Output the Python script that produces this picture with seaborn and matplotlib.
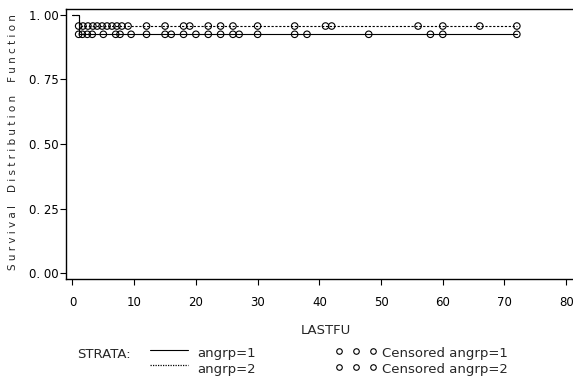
import matplotlib
matplotlib.use("Agg")
import matplotlib.pyplot as plt
import numpy as np
import pandas as pd
import seaborn as sns
from matplotlib.lines import Line2D

# step curves (time, survival) per stratum
strata = ["angrp=1", "angrp=2"]
curve_time_1 = [0, 1, 72]
curve_surv_1 = [1.0, 0.925, 0.925]
curve_time_2 = [0, 1, 72]
curve_surv_2 = [1.0, 0.957, 0.957]

# censored observation times
censored_1 = [1, 1.6, 2.4, 3.2, 5, 7, 7.7, 9.5, 12, 15, 16, 18, 20, 22, 24,
              26, 27, 30, 36, 38, 48, 58, 60, 72]
censored_2 = [1, 1.7, 2.5, 3.3, 4, 4.8, 5.6, 6.4, 7.2, 8, 9, 12, 15, 18, 19,
              22, 24, 26, 30, 36, 41, 42, 56, 60, 66, 72]

x_ticks = [0, 10, 20, 30, 40, 50, 60, 70, 80]
y_ticks = [0.0, 0.25, 0.5, 0.75, 1.0]
y_ticklabels = ["0. 00", "0. 25", "0. 50", "0. 75", "1. 00"]


def step_value(times, surv, t):
    idx = np.searchsorted(times, t, side="right") - 1
    return surv[idx]


curves = pd.concat([
    pd.DataFrame({"time": curve_time_1, "survival": curve_surv_1, "strata": strata[0]}),
    pd.DataFrame({"time": curve_time_2, "survival": curve_surv_2, "strata": strata[1]}),
])
cens = pd.concat([
    pd.DataFrame({"time": censored_1,
                  "survival": [step_value(curve_time_1, curve_surv_1, t) for t in censored_1]}),
    pd.DataFrame({"time": censored_2,
                  "survival": [step_value(curve_time_2, curve_surv_2, t) for t in censored_2]}),
])

sns.set_style("ticks")
plt.rcParams["font.family"] = ["DejaVu Sans"]

fig = plt.figure(figsize=(5.73, 3.81), dpi=100)
ax = fig.add_axes([66 / 573, 1 - 279 / 381, 1 - 66 / 573, 270 / 381])

sns.lineplot(
    data=curves, x="time", y="survival", style="strata",
    dashes={"angrp=1": "", "angrp=2": (2, 1.5)},
    color="black", linewidth=0.8, drawstyle="steps-post",
    estimator=None, sort=False, legend=False, ax=ax,
)
sns.scatterplot(
    data=cens, x="time", y="survival", marker="o", s=22,
    facecolor="none", edgecolor="black", linewidth=0.8, legend=False, ax=ax,
)

ax.set_xlim(-1.05, 81.1)
ax.set_ylim(-0.023, 1.023)
ax.set_xticks(x_ticks)
ax.set_yticks(y_ticks)
ax.set_yticklabels(y_ticklabels)
ax.tick_params(axis="both", direction="out", length=4, width=0.8,
               labelsize=8.5, colors="black")
ax.tick_params(axis="x", pad=8)
ax.tick_params(axis="y", pad=1)
for side in ["left", "bottom", "top"]:
    ax.spines[side].set_linewidth(1.0)
    ax.spines[side].set_color("black")
ax.spines["right"].set_visible(False)
ax.set_xlabel("")
ax.set_ylabel("")

fig.text(326 / 573, 1 - 330 / 381, "LASTFU", ha="center", va="center", fontsize=9.5)
fig.text(13 / 573, 1 - 142 / 381,
         " ".join("Survival Distribution Function").replace("   ", "    "),
         rotation=90, ha="center", va="center", fontsize=7.5)

# legend block (SAS style)
row1 = 1 - 354 / 381
row2 = 1 - 370 / 381
fig.text(77 / 573, row1, "STRATA:", ha="left", va="center", fontsize=9.5)
fig.add_artist(Line2D([150 / 573, 188 / 573], [row1 + 0.010, row1 + 0.010],
                      color="black", linewidth=0.8))
fig.add_artist(Line2D([150 / 573, 188 / 573], [row2 + 0.012, row2 + 0.012],
                      color="black", linewidth=0.9, linestyle=(0, (1, 1))))
fig.text(197 / 573, row1, "angrp=1", ha="left", va="center", fontsize=9.5)
fig.text(197 / 573, row2, "angrp=2", ha="left", va="center", fontsize=9.5)
for r in (row1, row2):
    fig.add_artist(Line2D([339 / 573, 356 / 573, 373 / 573], [r + 0.008] * 3,
                          linestyle="none", marker="o", markersize=4,
                          markerfacecolor="none", markeredgecolor="black",
                          markeredgewidth=0.8))
fig.text(382 / 573, row1, "Censored angrp=1", ha="left", va="center", fontsize=9.5)
fig.text(382 / 573, row2, "Censored angrp=2", ha="left", va="center", fontsize=9.5)

fig.savefig("out.png", dpi=100)
